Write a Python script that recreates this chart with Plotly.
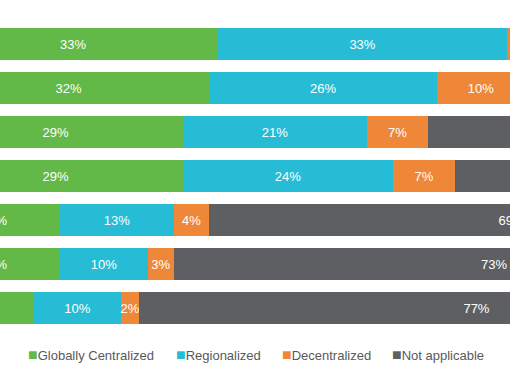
import plotly.graph_objects as go

categories = ["Row 1", "Row 2", "Row 3", "Row 4", "Row 5", "Row 6", "Row 7"]
series_names = ["Globally Centralized", "Regionalized", "Decentralized", "Not applicable"]
globally_centralized = [33, 32, 29, 29, 15, 15, 12]
regionalized = [33, 26, 21, 24, 13, 10, 10]
decentralized = [3, 10, 7, 7, 4, 3, 2]
not_applicable = [31, 32, 43, 40, 69, 73, 77]
colors = ["#63B947", "#27BCD6", "#EF8738", "#5E5F63"]

series_values = [globally_centralized, regionalized, decentralized, not_applicable]

fig = go.Figure()
for name, vals, col in zip(series_names, series_values, colors):
    fig.add_trace(go.Bar(
        y=categories, x=vals, name=name, orientation="h",
        marker=dict(color=col, line=dict(width=0)),
        text=[f"{v}%" for v in vals],
        textposition="inside", insidetextanchor="middle",
        textangle=0, constraintext="none",
        textfont=dict(color="white", size=13, family="Arial, Liberation Sans, sans-serif"),
        showlegend=False, hoverinfo="skip",
    ))

# legend drawn as text items below the chart
legend_px = [25.5, 173.5, 280, 390]
W = 510
for name, col, px in zip(series_names, colors, legend_px):
    fig.add_annotation(
        x=px / W, y=-0.081, xref="paper", yref="paper",
        xanchor="left", yanchor="middle", showarrow=False,
        text=f'<span style="color:{col};font-size:16px">■</span>{name}',
        font=dict(size=13, color="#595959", family="Arial, Liberation Sans, sans-serif"),
    )

fig.update_layout(
    barmode="stack", bargap=0.2727,
    width=510, height=382,
    margin=dict(l=0, r=0, t=22, b=52),
    paper_bgcolor="white", plot_bgcolor="white",
    xaxis=dict(range=[8.153, 66.306], visible=False, showgrid=False, zeroline=False),
    yaxis=dict(autorange="reversed", visible=False, showgrid=False),
)

fig.write_html("out.html", config={"displayModeBar": False},
               post_script="document.body.style.margin='0';")
